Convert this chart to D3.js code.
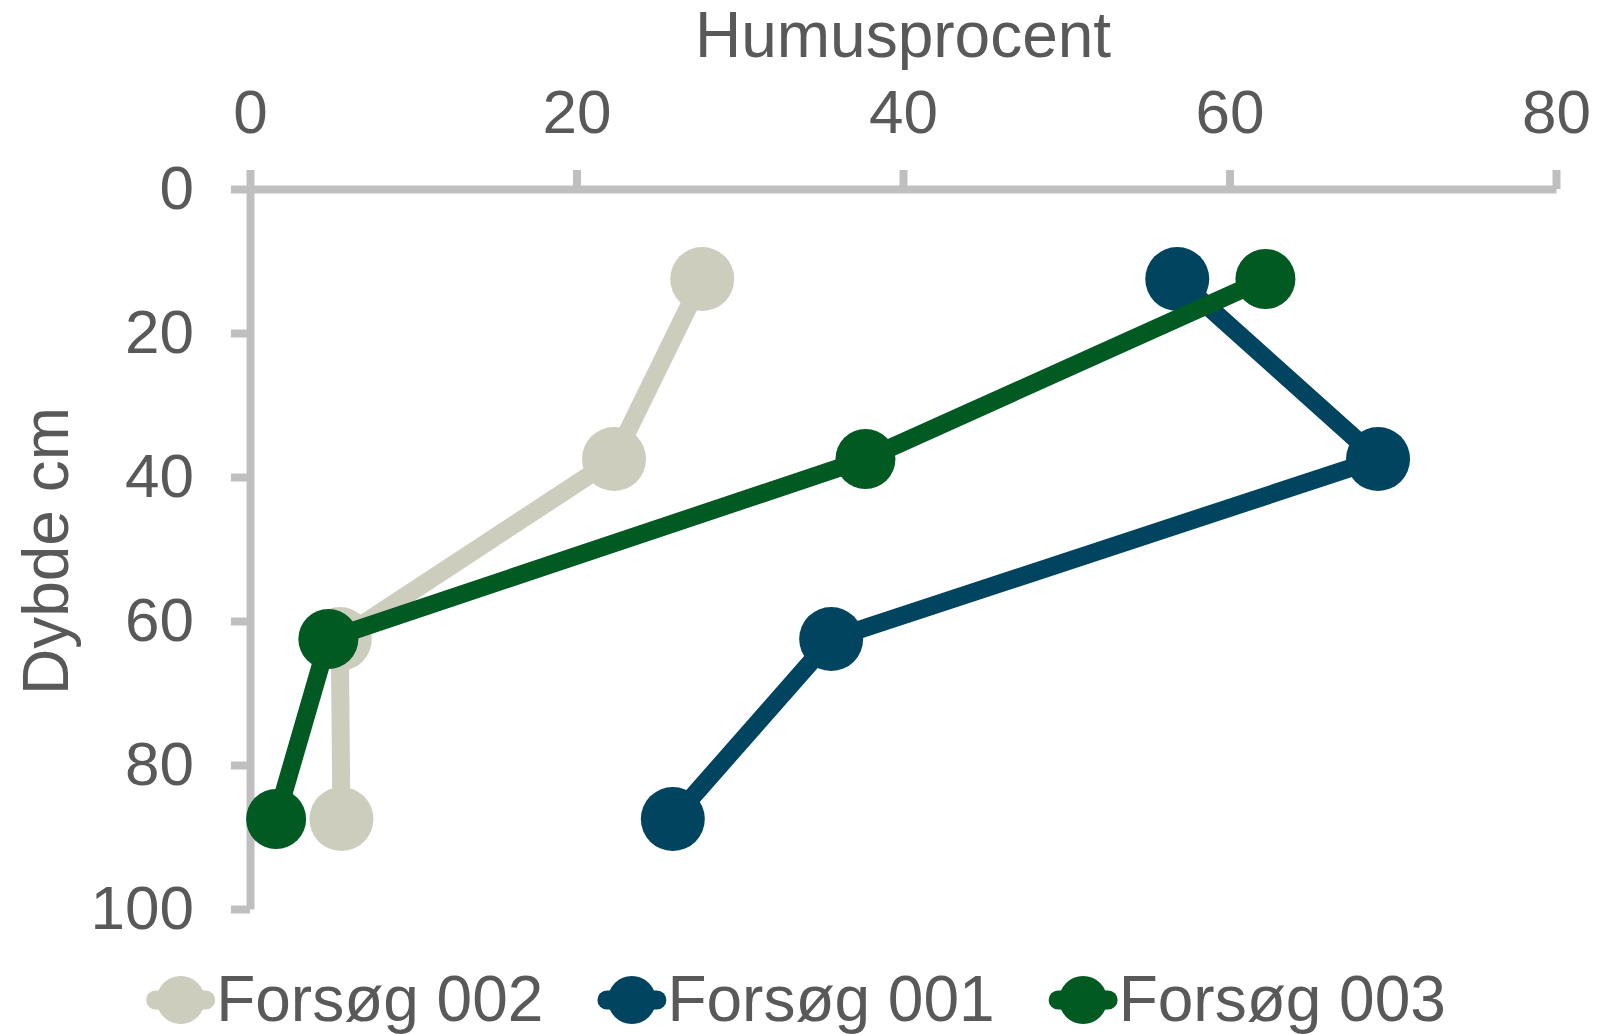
<!DOCTYPE html>
<html>
<head>
<meta charset="utf-8">
<script src="https://cdn.jsdelivr.net/npm/d3@7"></script>
<style>
    body { margin: 0; background: #fff; }
    text { font-family: "Liberation Sans", Arial, sans-serif; fill: #595959; }
</style>
</head>
<body>
<svg width="1599" height="1034"></svg>
<script>
// depths (cm) of each sample layer
var depths = [12.5, 37.5, 62.5, 87.5];
// humus percent per trial
var forsoeg002 = [27.7, 22.3, 5.5, 5.6];
var forsoeg001 = [56.8, 69.1, 35.6, 25.9];
var forsoeg003 = [62.2, 37.7, 4.8, 1.6];
var seriesNames = ["Forsøg 002", "Forsøg 001", "Forsøg 003"];
var xTicks = [0, 20, 40, 60, 80];
var yTicks = [0, 20, 40, 60, 80, 100];

var series = [
    { name: seriesNames[0], values: forsoeg002, color: "#CDCDBE", r: 32 },
    { name: seriesNames[1], values: forsoeg001, color: "#00445F", r: 32 },
    { name: seriesNames[2], values: forsoeg003, color: "#005A21", r: 30 }
];

var svg = d3.select("svg"),
    plotLeft = 250, plotRight = 1556, plotTop = 189, plotBottom = 909,
    axisColor = "#BFBFBF";

var x = d3.scaleLinear().domain([0, 80]).range([plotLeft, plotRight]);
var y = d3.scaleLinear().domain([0, 100]).range([plotTop, plotBottom]);

// x axis sits on top
svg.append("g")
    .attr("transform", "translate(0," + plotTop + ")")
    .call(d3.axisTop(x).tickValues(xTicks).tickSize(19).tickSizeOuter(0).tickPadding(37));

svg.append("g")
    .attr("transform", "translate(" + plotLeft + ",0)")
    .call(d3.axisLeft(y).tickValues(yTicks).tickSize(19).tickSizeOuter(0).tickPadding(37));

svg.selectAll(".domain, .tick line")
    .attr("stroke", axisColor)
    .attr("stroke-width", 8);
svg.selectAll(".tick text")
    .attr("fill", "#595959")
    .style("font-size", "62px")
    .style("font-family", "'Liberation Sans', Arial, sans-serif");

// axis titles
svg.append("text")
    .attr("x", (plotLeft + plotRight) / 2)
    .attr("y", 57)
    .attr("text-anchor", "middle")
    .style("font-size", "64px")
    .text("Humusprocent");

svg.append("text")
    .attr("transform", "translate(68,551) rotate(-90)")
    .attr("text-anchor", "middle")
    .style("font-size", "64px")
    .text("Dybde cm");

// series lines and markers
var line = d3.line()
    .x(function (d) { return x(d.v); })
    .y(function (d) { return y(d.depth); });

series.forEach(function (s) {
    var pts = s.values.map(function (v, i) { return { v: v, depth: depths[i] }; });
    var g = svg.append("g");
    g.append("path")
        .datum(pts)
        .attr("d", line)
        .attr("fill", "none")
        .attr("stroke", s.color)
        .attr("stroke-width", 18)
        .attr("stroke-linejoin", "round");
    g.selectAll("circle")
        .data(pts)
        .enter().append("circle")
        .attr("cx", function (d) { return x(d.v); })
        .attr("cy", function (d) { return y(d.depth); })
        .attr("r", s.r)
        .attr("fill", s.color);
});

// legend, centred on the page
var legend = svg.append("g");
var cap = 9.5, lineLen = 50, gap = 54, legY = 1000;
var items = legend.selectAll("g")
    .data(series)
    .enter().append("g");
items.append("line")
    .attr("x1", cap).attr("x2", cap + lineLen)
    .attr("y1", legY).attr("y2", legY)
    .attr("stroke", function (d) { return d.color; })
    .attr("stroke-width", 19)
    .attr("stroke-linecap", "round");
items.append("circle")
    .attr("cx", cap + lineLen / 2)
    .attr("cy", legY)
    .attr("r", 24)
    .attr("fill", function (d) { return d.color; });
items.append("text")
    .attr("x", 2 * cap + lineLen + 1)
    .attr("y", legY + 21)
    .style("font-size", "64px")
    .text(function (d) { return d.name; });

var offsets = [], total = 0;
items.each(function (d, i) {
    var w = 2 * cap + lineLen + 1 + d3.select(this).select("text").node().getComputedTextLength();
    offsets.push(total);
    total += w + (i < series.length - 1 ? gap : 0);
});
var startX = 796 - total / 2;
items.attr("transform", function (d, i) { return "translate(" + (startX + offsets[i]) + ",0)"; });
</script>
</body>
</html>
